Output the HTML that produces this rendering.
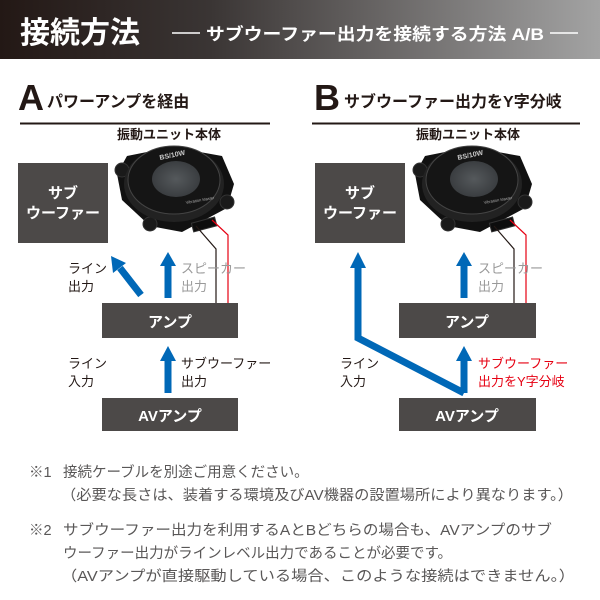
<!DOCTYPE html>
<html><head><meta charset="utf-8">
<style>
html,body{margin:0;padding:0;background:#fff;}
svg{display:block;}
text{font-family:"Liberation Sans","Noto Sans CJK JP",sans-serif;}
</style></head>
<body>
<svg width="600" height="600" viewBox="0 0 600 600" xmlns="http://www.w3.org/2000/svg">
<defs>
<linearGradient id="hg" x1="0" x2="1" y1="0" y2="0">
<stop offset="0" stop-color="#231815"/><stop offset="0.35" stop-color="#3a3534"/><stop offset="1" stop-color="#a3a3a3"/>
</linearGradient>
<radialGradient id="disc" cx="0.5" cy="0.5" r="0.5">
<stop offset="0" stop-color="#55595c"/><stop offset="1" stop-color="#3a3d40"/>
</radialGradient>
<g id="dev">
 <polygon points="-55,-8 -45,-26 0,-35 50,-26 62,2 55,26 10,50 -22,44 -50,18" fill="#111"/>
 <circle cx="-50" cy="-12" r="7" fill="#1a1a1a" stroke="#333"/>
 <circle cx="55" cy="20" r="7" fill="#1a1a1a" stroke="#333"/>
 <circle cx="-22" cy="42" r="7" fill="#1a1a1a" stroke="#333"/>
 <ellipse cx="2" cy="2" rx="50" ry="38" fill="#222"/>
 <ellipse cx="2" cy="-2" rx="46" ry="34" fill="#151515" stroke="#444" stroke-width="1"/>
 <ellipse cx="4" cy="-3" rx="24" ry="18" fill="url(#disc)"/>
 <text x="-12" y="-22" font-size="7" font-weight="bold" fill="#ccc" transform="rotate(-12 -12 -22)">BS/10W</text>
 <text x="14" y="22" font-size="4" fill="#aaa" transform="rotate(-10 14 22)">Vibration Master</text>
 <rect x="20" y="38" width="24" height="9" fill="#0d0d0d" stroke="#333" transform="rotate(-15 32 42)"/>
</g>
</defs>

<rect x="0" y="0" width="600" height="59" fill="url(#hg)"/>
<text x="20" y="43" font-size="30" font-weight="bold" fill="#fff">接続方法</text>
<line x1="172" y1="33" x2="200" y2="33" stroke="#fff" stroke-width="1.5"/>
<text x="206" y="40" font-size="17" font-weight="bold" fill="#fff" textLength="338" lengthAdjust="spacingAndGlyphs">サブウーファー出力を接続する方法 A/B</text>
<line x1="550" y1="33" x2="578" y2="33" stroke="#fff" stroke-width="1.5"/>

<text x="18" y="110" font-size="36" font-weight="bold" fill="#231815">A</text>
<text x="47" y="107" font-size="16" font-weight="bold" fill="#231815">パワーアンプを経由</text>
<line x1="20" y1="123.5" x2="270" y2="123.5" stroke="#231815" stroke-width="2"/>
<text x="314" y="110" font-size="36" font-weight="bold" fill="#231815">B</text>
<text x="344" y="107" font-size="16" font-weight="bold" fill="#231815">サブウーファー出力をY字分岐</text>
<line x1="312" y1="123.5" x2="580" y2="123.5" stroke="#231815" stroke-width="2"/>

<!-- PANEL A -->
<text x="117" y="139" font-size="13" font-weight="bold" fill="#231815">振動ユニット本体</text>
<use href="#dev" x="172" y="182"/>
<polyline points="196,226 216,249 216,304" fill="none" stroke="#231815" stroke-width="1.2"/>
<polyline points="212,220 228,235 228,304" fill="none" stroke="#e60012" stroke-width="1.2"/>
<rect x="18" y="163" width="90" height="80" fill="#4c4948"/>
<text x="63" y="198" font-size="15" font-weight="bold" fill="#fff" text-anchor="middle">サブ</text>
<text x="63" y="218" font-size="15" font-weight="bold" fill="#fff" text-anchor="middle">ウーファー</text>
<rect x="102" y="303" width="136" height="35" fill="#4c4948"/>
<text x="170" y="327" font-size="15" font-weight="bold" fill="#fff" text-anchor="middle">アンプ</text>
<rect x="102" y="398" width="136" height="33" fill="#4c4948"/>
<text x="170" y="421" font-size="15" font-weight="bold" fill="#fff" text-anchor="middle">AVアンプ</text>
<line x1="168" y1="298" x2="168" y2="264" stroke="#0068b7" stroke-width="7"/>
<polygon points="160,266 176,266 168,252" fill="#0068b7"/>
<line x1="141" y1="295" x2="120" y2="268" stroke="#0068b7" stroke-width="7"/>
<polygon points="111,256 113,273 126,263" fill="#0068b7"/>
<line x1="168" y1="393" x2="168" y2="359" stroke="#0068b7" stroke-width="7"/>
<polygon points="160,361 176,361 168,346" fill="#0068b7"/>
<text x="68" y="273" font-size="13" fill="#231815">ライン</text>
<text x="68" y="291" font-size="13" fill="#231815">出力</text>
<text x="181" y="273" font-size="13" fill="#999">スピーカー</text>
<text x="181" y="291" font-size="13" fill="#999">出力</text>
<text x="68" y="368" font-size="13" fill="#231815">ライン</text>
<text x="68" y="386" font-size="13" fill="#231815">入力</text>
<text x="181" y="368" font-size="13" fill="#231815">サブウーファー</text>
<text x="181" y="386" font-size="13" fill="#231815">出力</text>

<!-- PANEL B -->
<text x="416" y="139" font-size="13" font-weight="bold" fill="#231815">振動ユニット本体</text>
<use href="#dev" x="470" y="182"/>
<polyline points="494,226 514,249 514,304" fill="none" stroke="#231815" stroke-width="1.2"/>
<polyline points="510,220 526,235 526,304" fill="none" stroke="#e60012" stroke-width="1.2"/>
<rect x="315" y="163" width="90" height="80" fill="#4c4948"/>
<text x="360" y="198" font-size="15" font-weight="bold" fill="#fff" text-anchor="middle">サブ</text>
<text x="360" y="218" font-size="15" font-weight="bold" fill="#fff" text-anchor="middle">ウーファー</text>
<rect x="399" y="303" width="137" height="35" fill="#4c4948"/>
<text x="467" y="327" font-size="15" font-weight="bold" fill="#fff" text-anchor="middle">アンプ</text>
<rect x="399" y="398" width="137" height="33" fill="#4c4948"/>
<text x="467" y="421" font-size="15" font-weight="bold" fill="#fff" text-anchor="middle">AVアンプ</text>
<line x1="464" y1="298" x2="464" y2="264" stroke="#0068b7" stroke-width="7"/>
<polygon points="456,266 472,266 464,252" fill="#0068b7"/>
<polyline points="464,393 358,338 358,266" fill="none" stroke="#0068b7" stroke-width="7" stroke-linejoin="miter"/>
<polygon points="350,268 366,268 358,252" fill="#0068b7"/>
<line x1="464" y1="393" x2="464" y2="359" stroke="#0068b7" stroke-width="7"/>
<polygon points="456,361 472,361 464,346" fill="#0068b7"/>
<text x="478" y="273" font-size="13" fill="#999">スピーカー</text>
<text x="478" y="291" font-size="13" fill="#999">出力</text>
<text x="340" y="368" font-size="13" fill="#231815">ライン</text>
<text x="340" y="386" font-size="13" fill="#231815">入力</text>
<text x="478" y="368" font-size="13" fill="#e60012">サブウーファー</text>
<text x="478" y="386" font-size="13" fill="#e60012">出力をY字分岐</text>

<g font-size="14.5" fill="#595757">
<text x="29" y="477">※1</text>
<text x="63" y="477">接続ケーブルを別途ご用意ください。</text>
<text x="61" y="500" textLength="512" lengthAdjust="spacingAndGlyphs">（必要な長さは、装着する環境及びAV機器の設置場所により異なります。）</text>
<text x="29" y="535">※2</text>
<text x="63" y="535" textLength="489" lengthAdjust="spacingAndGlyphs">サブウーファー出力を利用するAとBどちらの場合も、AVアンプのサブ</text>
<text x="63" y="558">ウーファー出力がラインレベル出力であることが必要です。</text>
<text x="61" y="581" textLength="514" lengthAdjust="spacingAndGlyphs">（AVアンプが直接駆動している場合、このような接続はできません。）</text>
</g>
</svg>
</body></html>
